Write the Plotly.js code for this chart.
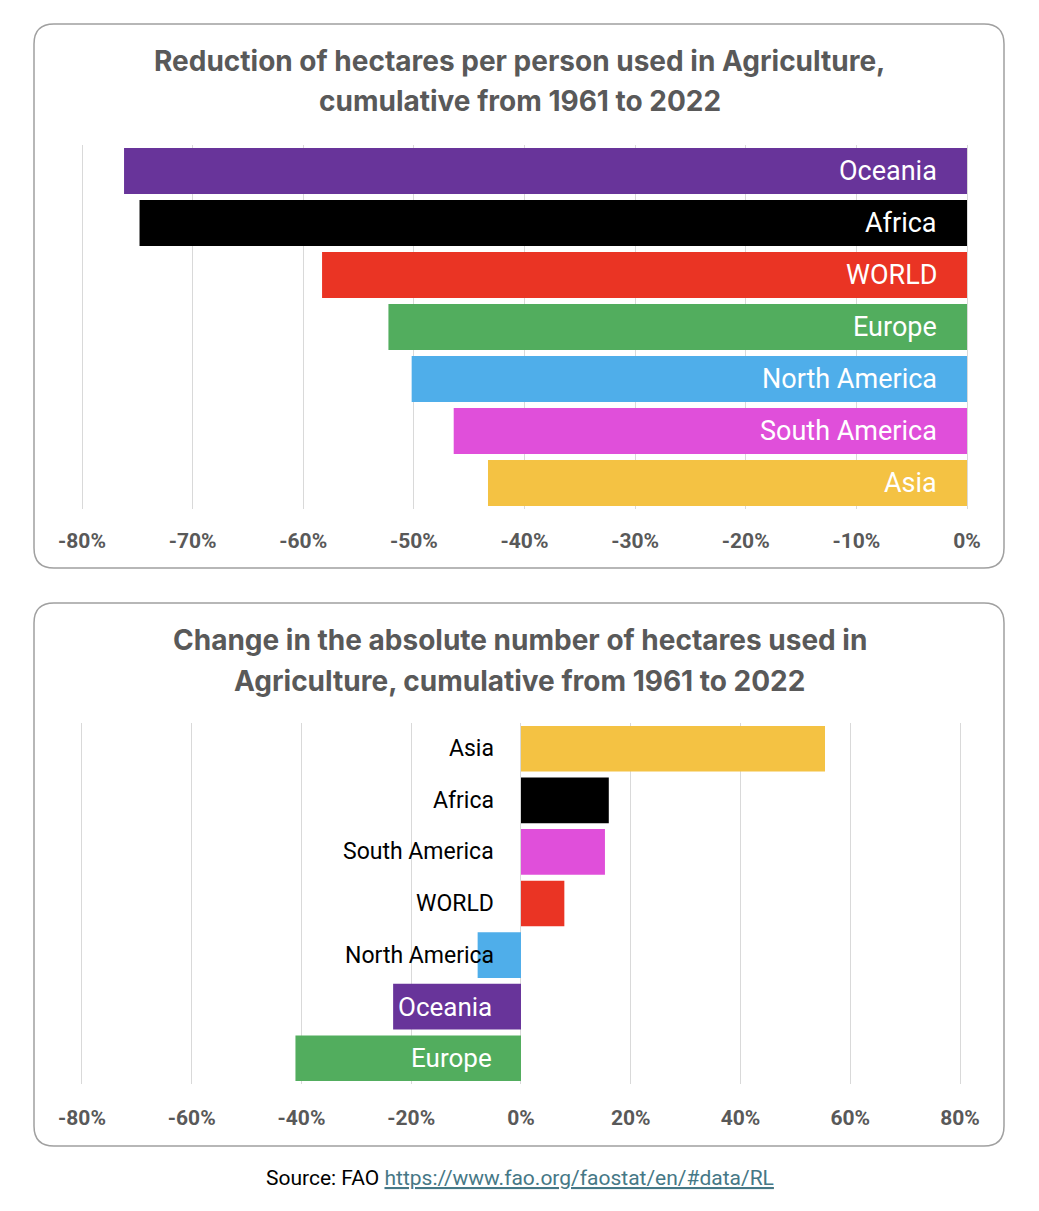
<!DOCTYPE html>
<html>
<head>
<meta charset="utf-8">
<script src="https://cdn.plot.ly/plotly-3.0.1.min.js"></script>
<style>html,body{margin:0;padding:0;background:#fff;}#chart{width:1039px;height:1211px;}</style>
</head>
<body>
<div id="chart"></div>
<script>
// ---- Data: top chart (hectares per person, change 1961-2022) ----
var perPersonRegions = ["Oceania", "Africa", "WORLD", "Europe", "North America", "South America", "Asia"];
var perPersonChange = [-0.762, -0.748, -0.583, -0.523, -0.502, -0.464, -0.433];
var perPersonColors = ["#68349a", "#000000", "#ea3424", "#52ad5e", "#4faeea", "#e04fda", "#f4c243"];

// ---- Data: bottom chart (absolute hectares, change 1961-2022) ----
var absoluteRegions = ["Asia", "Africa", "South America", "WORLD", "North America", "Oceania", "Europe"];
var absoluteChange = [0.554, 0.160, 0.153, 0.079, -0.079, -0.233, -0.411];
var absoluteColors = ["#f4c243", "#000000", "#e04fda", "#ea3424", "#4faeea", "#68349a", "#52ad5e"];
var absoluteLabelColors = ["#000000", "#000000", "#000000", "#000000", "#000000", "#ffffff", "#ffffff"];

// ---- Tick labels ----
var topTickVals = [-0.8, -0.7, -0.6, -0.5, -0.4, -0.3, -0.2, -0.1, 0];
var topTickText = ["-80%", "-70%", "-60%", "-50%", "-40%", "-30%", "-20%", "-10%", "0%"];
var botTickVals = [-0.8, -0.6, -0.4, -0.2, 0, 0.2, 0.4, 0.6, 0.8];
var botTickText = ["-80%", "-60%", "-40%", "-20%", "0%", "20%", "40%", "60%", "80%"];

var W = 1039, H = 1211;
function px(x) { return x / W; }
function py(y) { return 1 - y / H; }

var FONT = "Roboto, 'Noto Sans', sans-serif";
var TFONT = "Inter, Roboto, sans-serif";
var GRAY = "#595959";

var traces = [
  {
    type: "bar", orientation: "h",
    x: perPersonChange, y: perPersonRegions,
    marker: { color: perPersonColors },
    xaxis: "x", yaxis: "y",
    hoverinfo: "x+y", showlegend: false
  },
  {
    type: "bar", orientation: "h",
    x: absoluteChange, y: absoluteRegions,
    marker: { color: absoluteColors },
    xaxis: "x2", yaxis: "y2",
    hoverinfo: "x+y", showlegend: false
  }
];

var annotations = [];
perPersonRegions.forEach(function (r) {
  annotations.push({
    xref: "x", yref: "y", x: 0, y: r, xanchor: "right", yanchor: "middle",
    xshift: -28, text: r, showarrow: false,
    font: { family: FONT, size: 27, color: "#ffffff" }
  });
});
absoluteRegions.forEach(function (r, i) {
  var white = absoluteLabelColors[i] === "#ffffff";
  annotations.push({
    xref: "x2", yref: "y2", x: 0, y: r, xanchor: "right", yanchor: "middle",
    xshift: white ? -27 : -25, text: r, showarrow: false,
    font: { family: FONT, size: white ? 26 : 23, color: absoluteLabelColors[i] }
  });
});

function titleLine(text, yPx) {
  return {
    xref: "paper", yref: "paper", x: 0.5, y: py(yPx), xanchor: "center", yanchor: "middle",
    text: "<b>" + text + "</b>", showarrow: false,
    font: { family: TFONT, size: 28, color: GRAY }
  };
}
annotations.push(titleLine("Reduction of hectares per person used in Agriculture,", 61));
annotations.push(titleLine("cumulative from 1961 to 2022", 101));
annotations.push(titleLine("Change in the absolute number of hectares used in", 640));
annotations.push(titleLine("Agriculture, cumulative from 1961 to 2022", 681));

annotations.push({
  xref: "paper", yref: "paper", x: 0.5, y: py(1178), xanchor: "center", yanchor: "middle",
  text: 'Source: FAO <span style="color:#467886"><u>https://www.fao.org/faostat/en/#data/RL</u></span>',
  showarrow: false,
  font: { family: FONT, size: 21, color: "#000000" }
});

function roundedBox(x0, y0, x1, y1, r) {
  var rx = r / W, ry = r / H;
  var X0 = px(x0), X1 = px(x1), Y0 = py(y0), Y1 = py(y1);
  return "M " + (X0 + rx) + " " + Y0 +
    " L " + (X1 - rx) + " " + Y0 +
    " Q " + X1 + " " + Y0 + " " + X1 + " " + (Y0 - ry) +
    " L " + X1 + " " + (Y1 + ry) +
    " Q " + X1 + " " + Y1 + " " + (X1 - rx) + " " + Y1 +
    " L " + (X0 + rx) + " " + Y1 +
    " Q " + X0 + " " + Y1 + " " + X0 + " " + (Y1 + ry) +
    " L " + X0 + " " + (Y0 - ry) +
    " Q " + X0 + " " + Y0 + " " + (X0 + rx) + " " + Y0 + " Z";
}

var shapes = [
  { type: "path", xref: "paper", yref: "paper", path: roundedBox(34, 24, 1004, 568, 20),
    line: { color: "#a0a0a0", width: 1.5 }, layer: "below" },
  { type: "path", xref: "paper", yref: "paper", path: roundedBox(34, 603, 1004, 1146, 20),
    line: { color: "#a0a0a0", width: 1.5 }, layer: "below" }
];

var axisCommon = {
  showgrid: true, gridcolor: "#d9d9d9", gridwidth: 1,
  zeroline: false, showline: false, ticks: "",
  tickfont: { family: FONT, size: 21, color: GRAY, weight: "bold" },
  fixedrange: true
};

// top: -0.8 at 82px, 0 at 967px ; bottom: -0.8 at 82px, 0.8 at 960px
var layout = {
  width: W, height: H,
  margin: { l: 0, r: 0, t: 0, b: 0, pad: 0 },
  paper_bgcolor: "#ffffff", plot_bgcolor: "rgba(0,0,0,0)",
  bargap: 0.115,
  showlegend: false,
  xaxis: Object.assign({}, axisCommon, {
    domain: [px(70.94), px(972.53)], range: [-0.81, 0.005], anchor: "y",
    tickvals: topTickVals, ticktext: topTickText, ticklabelstandoff: 17
  }),
  yaxis: {
    domain: [py(509), py(145)], anchor: "x", autorange: "reversed",
    showticklabels: false, showgrid: false, zeroline: false, ticks: "", fixedrange: true
  },
  xaxis2: Object.assign({}, axisCommon, {
    domain: [px(71.0), px(970.98)], range: [-0.82, 0.82], anchor: "y2",
    tickvals: botTickVals, ticktext: botTickText, ticklabelstandoff: 19
  }),
  yaxis2: {
    domain: [py(1084), py(723)], anchor: "x2", autorange: "reversed",
    showticklabels: false, showgrid: false, zeroline: false, ticks: "", fixedrange: true
  },
  annotations: annotations,
  shapes: shapes
};

Plotly.newPlot("chart", traces, layout, { displayModeBar: false, staticPlot: true });
</script>
</body>
</html>
